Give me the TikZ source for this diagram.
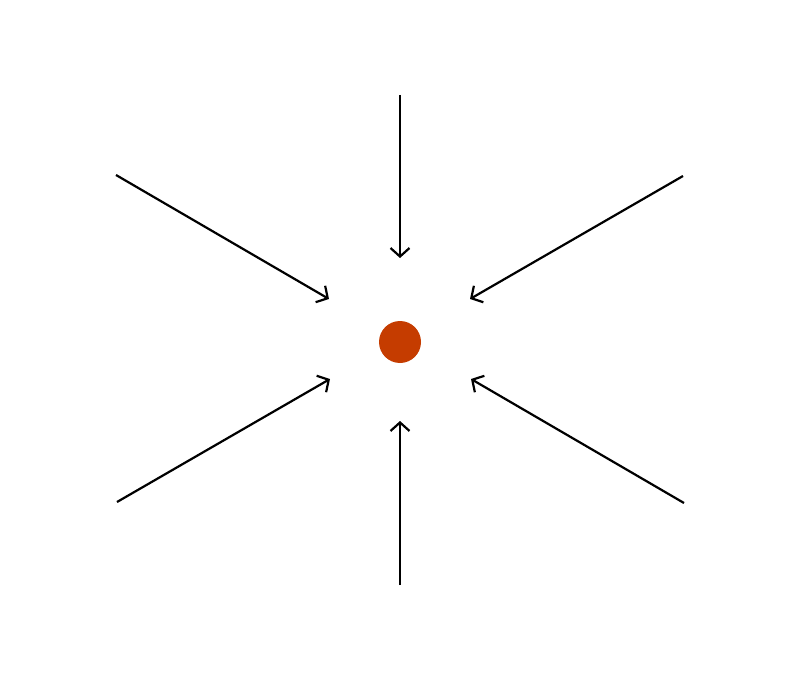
\documentclass[tikz,border=0pt]{standalone}
\usetikzlibrary{arrows.meta}
\definecolor{dotred}{RGB}{197,60,0}
\begin{document}
\begin{tikzpicture}[x=1pt,y=-1pt,
  inarrow/.style={draw=black,line width=2.2pt,-{Straight Barb[length=8.5pt,width=19pt,line width=2.2pt]}},
  dot/.style={circle,fill=dotred,draw=none,minimum size=42pt,inner sep=0pt}]
\useasboundingbox (0,0) rectangle (800,679);
\node[dot] (c) at (400,342) {};
\coordinate (s1) at (400,95);   \coordinate (t1) at (400,258);
\coordinate (s2) at (116,175);  \coordinate (t2) at (329,299);
\coordinate (s3) at (683,176);  \coordinate (t3) at (470,299);
\coordinate (s4) at (117,502);  \coordinate (t4) at (330,379);
\coordinate (s5) at (684,503);  \coordinate (t5) at (471,379);
\coordinate (s6) at (400,585);  \coordinate (t6) at (400,421);
\foreach \i in {1,...,6} \draw[inarrow] (s\i) -- (t\i);
\end{tikzpicture}
\end{document}
